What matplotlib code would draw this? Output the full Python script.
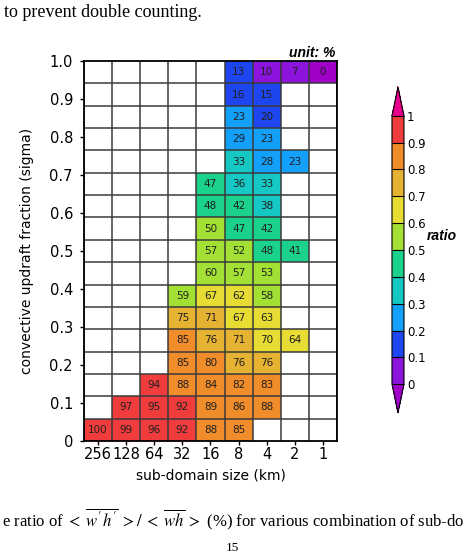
import matplotlib
matplotlib.use("Agg")
import matplotlib.pyplot as plt
import matplotlib.colors as mcolors
import numpy as np

### sub-domain sizes (km) and sigma rows
sizes = ["256", "128", "64", "32", "16", "8", "4", "2", "1"]
n_rows = 17

### ratio (%) per row, bottom row first; None = no data
r00 = [99.7, 99, 96, 92, 88, 85, None, None, None]
r01 = [None, 97, 95, 92, 89, 86, 88, None, None]
r02 = [None, None, 94, 88, 84, 82, 83, None, None]
r03 = [None, None, None, 85, 80.2, 76, 76, None, None]
r04 = [None, None, None, 85, 76, 71, 69.7, 64, None]
r05 = [None, None, None, 75, 71, 67, 63, None, None]
r06 = [None, None, None, 59, 67, 62, 58, None, None]
r07 = [None, None, None, None, 59.7, 57, 53, None, None]
r08 = [None, None, None, None, 57, 52, 48, 41, None]
r09 = [None, None, None, None, 50.3, 47, 42, None, None]
r10 = [None, None, None, None, 48, 42, 38, None, None]
r11 = [None, None, None, None, 47, 36, 33, None, None]
r12 = [None, None, None, None, None, 33, 28, 23, None]
r13 = [None, None, None, None, None, 29, 23, None, None]
r14 = [None, None, None, None, None, 23, 19.7, None, None]
r15 = [None, None, None, None, None, 16, 15, None, None]
r16 = [None, None, None, None, None, 13, 9.8, 7, -0.2]

rows = [r00, r01, r02, r03, r04, r05, r06, r07, r08, r09,
        r10, r11, r12, r13, r14, r15, r16]
data = np.array([[np.nan if v is None else v for v in r] for r in rows], dtype=float)

### colour levels
levels = np.linspace(0, 1, 11)
colors = ["#8c14dc", "#1e46f0", "#12a0fa", "#16c8c4", "#1ad28c",
          "#a2e034", "#e6dc34", "#e6b232", "#f08c2a", "#f03c3c"]
cmap = mcolors.ListedColormap(colors)
cmap.set_under("#a000c8")
cmap.set_over("#e6008c")
cmap.set_bad("white")
norm = mcolors.BoundaryNorm(levels, cmap.N)

fig = plt.figure(figsize=(4.68, 5.53), dpi=100)
ax = fig.add_axes([0.1795, 0.2025, 0.5405, 0.6872])

xe = np.arange(len(sizes) + 1)
ye = np.linspace(0, 1, n_rows + 1)
mesh = ax.pcolormesh(xe, ye, np.ma.masked_invalid(data / 100.0), cmap=cmap, norm=norm)

### numbers in the cells
xc = (xe[:-1] + xe[1:]) / 2
yc = (ye[:-1] + ye[1:]) / 2
for i in range(n_rows):
    for j in range(len(sizes)):
        v = data[i, j]
        if np.isnan(v):
            continue
        ax.text(xc[j], yc[i], "%d" % round(v), ha="center", va="center",
                fontsize=7.5, color="#202020")

### grid lines between all cells
ax.set_xticks(xe, minor=True)
ax.set_yticks(ye, minor=True)
ax.grid(which="minor", color="#3a3a3a", linewidth=1.1)
ax.tick_params(which="minor", length=0)

ax.set_xlim(0, len(sizes))
ax.set_ylim(0, 1)
ax.set_xticks(xc)
ax.set_xticklabels(sizes)
ax.set_yticks(np.linspace(0, 1, 11))
ax.set_yticklabels(["0", "0.1", "0.2", "0.3", "0.4", "0.5", "0.6", "0.7", "0.8", "0.9", "1.0"])
ax.tick_params(axis="both", labelsize=10.5, length=3, width=1)
ax.tick_params(axis="y", pad=5)
ax.tick_params(axis="x", pad=1)
for s in ax.spines.values():
    s.set_linewidth(1.3)

ax.set_xlabel("sub-domain size (km)", fontsize=10, labelpad=5)
ax.set_ylabel("convective updraft fraction (sigma)", fontsize=10, labelpad=11)

ax.text(0.995, 1.0105, "unit: %", transform=ax.transAxes, ha="right", va="baseline",
        fontsize=10, fontweight="bold", fontstyle="italic", family="Liberation Sans")

### colour bar
cax = fig.add_axes([0.8376, 0.2532, 0.0256, 0.5895])
cb = fig.colorbar(mesh, cax=cax, extend="both", extendfrac=0.107, drawedges=True,
                  ticks=levels)
cb.ax.set_yticklabels(["0", "0.1", "0.2", "0.3", "0.4", "0.5", "0.6", "0.7", "0.8", "0.9", "1"])
cb.ax.tick_params(length=0, labelsize=8.5, pad=2)
cb.outline.set_linewidth(0.8)
cb.dividers.set_linewidth(0.8)
fig.text(0.912, 0.573, "ratio", fontsize=10, fontweight="bold", fontstyle="italic",
         family="Liberation Sans", va="center")

### surrounding page text
plt.rcParams["mathtext.fontset"] = "stix"
fig.text(0.009, 0.969, "to prevent double counting.", fontsize=13,
         family="Liberation Serif", va="baseline")
fig.text(0.004, 0.047,
         r"e ratio of $<\;\overline{w'h'}\;>/\;<\;\overline{wh}\;>$ (%) for various combination of sub-do",
         fontsize=12, family="Liberation Serif", va="baseline")
fig.text(0.496, 0.003, "15", fontsize=9.5, family="Liberation Serif", ha="center", va="baseline")

plt.savefig("out.png", dpi=100)
